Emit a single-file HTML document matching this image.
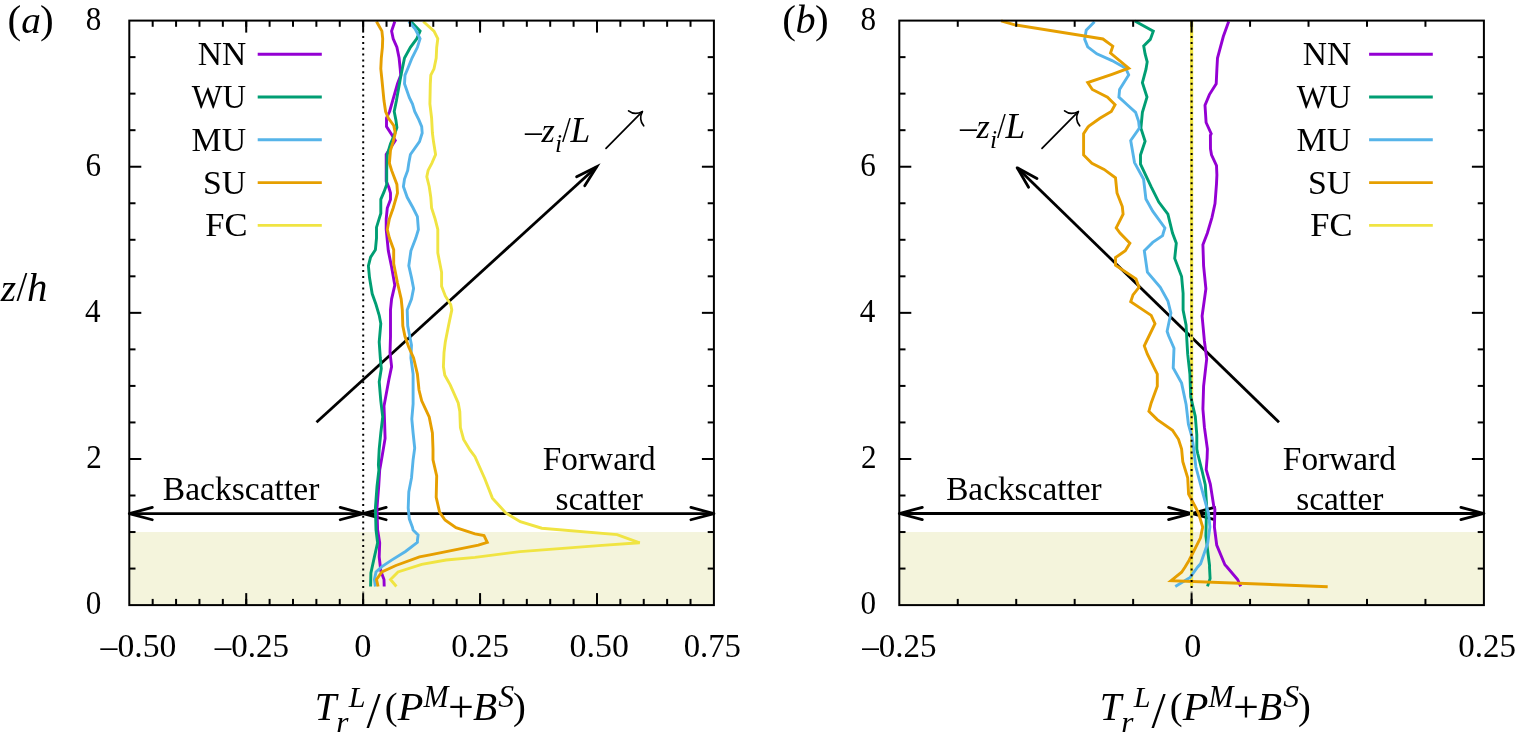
<!DOCTYPE html>
<html><head><meta charset="utf-8"><style>
html,body{margin:0;padding:0;background:#fff;}
svg{display:block;}
text{font-family:"Liberation Serif","Times New Roman",serif;fill:#000;}
</style></head><body>
<svg width="1517" height="744" viewBox="0 0 1517 744">
<rect width="1517" height="744" fill="#fff"/>
<rect x="129.3" y="532.04" width="584.60" height="73.06" fill="#f4f4dc"/>
<rect x="899.3" y="532.04" width="584.60" height="73.06" fill="#f4f4dc"/>
<g stroke="#000" stroke-width="2.8" fill="none" stroke-linejoin="miter" stroke-miterlimit="10">
<line x1="316.50" y1="422.20" x2="596.70" y2="166.70" stroke-linecap="butt"/>
<path d="M576.63,176.87 L596.70,166.70 L584.73,185.75" stroke-linecap="round"/>
</g>
<g stroke="#000" stroke-width="2.8" fill="none" stroke-linejoin="round" stroke-miterlimit="10">
<line x1="129.30" y1="513.60" x2="363.20" y2="513.60" stroke-linecap="butt"/>
<path d="M152.29,519.76 L129.30,513.60 L152.29,507.44" stroke-linecap="round"/>
<path d="M340.21,507.44 L363.20,513.60 L340.21,519.76" stroke-linecap="round"/>
</g>
<g stroke="#000" stroke-width="2.8" fill="none" stroke-linejoin="round" stroke-miterlimit="10">
<line x1="363.20" y1="513.60" x2="713.90" y2="513.60" stroke-linecap="butt"/>
<path d="M386.19,519.76 L363.20,513.60 L386.19,507.44" stroke-linecap="round"/>
<path d="M690.91,507.44 L713.90,513.60 L690.91,519.76" stroke-linecap="round"/>
</g>
<g stroke="#000" stroke-width="1.7" fill="none" stroke-linecap="round" transform="translate(0,0)">
<line x1="606.0" y1="148.3" x2="642.3" y2="111.7"/>
<path d="M642.3,111.7 Q634.4,115.5 628.6,110.9"/>
<path d="M642.3,111.7 Q638.4,119.4 643.7,125.8"/>
</g>
<g stroke="#000" stroke-width="2.8" fill="none" stroke-linejoin="round" stroke-miterlimit="10">
<line x1="1279.00" y1="422.30" x2="1017.20" y2="167.80" stroke-linecap="butt"/>
<path d="M1028.56,187.22 L1017.20,167.80 L1036.94,178.60" stroke-linecap="round"/>
</g>
<g stroke="#000" stroke-width="2.8" fill="none" stroke-linejoin="round" stroke-miterlimit="10">
<line x1="899.30" y1="513.50" x2="1191.60" y2="513.50" stroke-linecap="butt"/>
<path d="M922.29,519.66 L899.30,513.50 L922.29,507.34" stroke-linecap="round"/>
<path d="M1168.61,507.34 L1191.60,513.50 L1168.61,519.66" stroke-linecap="round"/>
</g>
<g stroke="#000" stroke-width="2.8" fill="none" stroke-linejoin="round" stroke-miterlimit="10">
<line x1="1191.60" y1="513.50" x2="1483.90" y2="513.50" stroke-linecap="butt"/>
<path d="M1214.59,519.66 L1191.60,513.50 L1214.59,507.34" stroke-linecap="round"/>
<path d="M1460.91,507.34 L1483.90,513.50 L1460.91,519.66" stroke-linecap="round"/>
</g>
<g stroke="#000" stroke-width="1.7" fill="none" stroke-linecap="round" transform="translate(436,0)">
<line x1="606.0" y1="148.3" x2="642.3" y2="111.7"/>
<path d="M642.3,111.7 Q634.4,115.5 628.6,110.9"/>
<path d="M642.3,111.7 Q638.4,119.4 643.7,125.8"/>
</g>
<polyline points="394.8,21.5 391.6,31.1 393.2,38.7 396.9,47.3 399.1,58.0 400.2,68.8 400.7,75.2 397.5,83.8 392.6,100.8 389.6,111.5 386.5,118.0 386.5,126.6 392.1,135.2 395.3,140.5 386.2,154.5 386.2,181.1 388.9,187.6 390.5,193.0 390.5,199.4 387.3,208.0 386.2,218.8 386.2,229.5 388.3,250.8 391.6,266.9 394.8,285.2 391.6,299.1 390.5,309.9 390.5,320.0 390.5,336.5 390.0,352.6 391.6,366.6 388.9,379.5 384.0,406.1 384.6,422.3 385.1,438.4 382.4,454.5 379.7,470.0 378.7,486.5 377.0,508.0 377.6,529.8 379.7,542.9 379.2,556.9 380.8,570.9 384.0,579.5 384.2,586.5" fill="none" stroke="#9400d3" stroke-width="2.9" stroke-linejoin="miter" stroke-miterlimit="4" stroke-linecap="butt"/>
<polyline points="410.9,21.5 420.1,31.1 416.8,38.7 410.4,47.3 404.5,58.0 402.3,68.8 400.2,79.5 396.4,100.8 394.2,111.5 395.9,120.1 396.9,127.6 394.2,135.2 390.5,143.8 387.3,154.5 386.7,170.0 386.7,184.4 384.0,191.9 380.8,199.4 380.8,213.4 376.5,227.4 376.5,238.1 375.4,249.7 370.6,257.2 368.4,265.8 369.5,277.6 372.2,293.8 376.0,304.5 379.2,315.3 380.8,323.6 379.2,341.9 380.3,358.0 381.3,368.8 379.2,381.7 380.8,400.8 382.7,416.9 380.8,433.0 379.2,449.1 378.4,465.0 378.9,470.0 377.0,486.5 375.4,508.0 376.0,529.8 377.6,542.9 374.4,556.9 370.9,573.0 370.6,586.5" fill="none" stroke="#009e73" stroke-width="2.9" stroke-linejoin="miter" stroke-miterlimit="4" stroke-linecap="butt"/>
<polyline points="408.8,21.5 415.2,29.0 420.1,38.7 417.4,47.3 412.0,58.0 407.7,68.8 405.0,75.2 404.5,83.8 409.3,97.5 412.5,104.0 414.7,111.5 419.0,120.1 421.7,126.6 422.2,133.0 419.5,141.6 410.4,154.5 408.8,163.1 407.7,170.4 404.5,179.0 403.4,186.5 407.2,197.3 413.1,208.0 417.4,216.6 418.4,229.5 415.8,238.1 410.9,250.8 408.8,265.8 411.5,277.6 413.6,288.4 411.5,299.1 407.2,309.9 407.7,325.8 409.8,336.5 411.5,345.1 410.9,358.0 413.1,374.1 413.1,390.0 413.1,404.0 411.8,419.0 413.1,433.0 414.7,448.1 413.1,459.9 411.5,477.9 408.8,491.9 408.2,508.0 409.3,518.8 412.5,527.4 413.1,530.0 418.1,535.1 417.4,540.3 417.4,542.4 405.5,551.5 391.6,560.1 381.9,566.6 376.0,571.9 374.4,579.5 375.4,586.5" fill="none" stroke="#56b4e9" stroke-width="2.9" stroke-linejoin="miter" stroke-miterlimit="4" stroke-linecap="butt"/>
<polyline points="376.5,21.5 381.9,31.1 382.7,38.7 382.4,47.3 381.3,58.0 380.8,68.8 381.9,79.5 384.0,100.8 385.6,111.5 388.3,118.0 393.7,125.5 395.3,133.0 393.2,141.6 390.5,150.2 389.4,163.1 391.6,170.4 396.9,184.4 397.5,193.0 393.2,208.0 389.4,218.8 387.3,229.5 389.4,238.1 393.7,249.7 393.7,263.7 397.5,283.0 401.2,299.1 402.3,309.9 402.8,325.8 405.0,336.5 408.8,347.3 413.6,358.0 417.4,374.1 419.0,390.0 421.7,400.8 429.2,416.9 432.4,433.0 433.0,449.1 433.0,459.9 436.7,475.8 436.2,497.3 439.6,512.2 444.2,518.8 445.3,520.2 456.0,527.6 475.0,533.8 484.0,535.5 487.3,542.3 478.4,545.2 430.0,554.8 419.5,556.9 395.9,565.5 381.9,571.9 376.5,579.5 378.1,586.5" fill="none" stroke="#e69f00" stroke-width="2.9" stroke-linejoin="miter" stroke-miterlimit="4" stroke-linecap="butt"/>
<polyline points="423.3,21.5 434.0,31.1 437.8,38.7 436.7,47.3 436.2,58.0 434.0,68.8 430.8,75.2 430.3,83.8 429.9,104.0 431.6,118.0 432.4,133.0 433.5,141.6 435.6,154.5 431.9,163.1 428.1,170.4 426.8,176.8 429.2,186.5 430.8,197.3 431.6,208.0 435.1,218.8 437.8,229.5 437.8,252.9 441.6,272.3 441.6,286.2 445.3,295.9 450.7,304.5 451.8,309.9 448.5,325.8 445.3,341.9 444.0,352.6 443.4,366.6 444.8,375.2 450.2,384.9 458.2,402.9 459.8,411.5 460.4,427.6 463.6,439.5 470.1,450.2 475.0,456.7 484.8,478.7 492.4,498.1 505.8,512.9 520.3,521.7 541.8,528.2 617.1,534.6 639.7,542.8 602.0,545.4 520.0,551.6 475.0,557.4 446.1,560.0 421.7,564.4 398.0,571.9 390.5,579.5 396.4,586.5" fill="none" stroke="#f0e442" stroke-width="2.9" stroke-linejoin="miter" stroke-miterlimit="4" stroke-linecap="butt"/>
<polyline points="1191.6,20.6 1191.6,586.4" fill="none" stroke="#f0e442" stroke-width="3.2" stroke-linejoin="miter" stroke-miterlimit="4" stroke-linecap="butt"/>
<polyline points="1228.7,21.5 1223.3,36.5 1217.5,58.0 1216.9,68.8 1216.2,83.8 1209.4,94.6 1205.0,105.3 1206.1,122.5 1211.2,133.7 1210.4,135.4 1210.5,148.9 1211.5,154.8 1216.5,165.6 1216.9,175.0 1216.5,183.8 1215.0,203.6 1212.0,217.3 1207.4,233.0 1202.9,244.7 1203.6,266.0 1205.9,288.8 1202.1,316.1 1204.4,341.0 1206.7,358.8 1203.6,386.2 1202.9,409.0 1204.4,427.2 1207.4,449.0 1207.1,458.0 1206.2,469.7 1210.3,484.1 1213.9,507.0 1214.9,509.0 1214.4,527.0 1216.7,545.0 1224.9,564.8 1227.0,567.0 1237.6,579.5 1240.7,586.4" fill="none" stroke="#9400d3" stroke-width="2.9" stroke-linejoin="miter" stroke-miterlimit="4" stroke-linecap="butt"/>
<polyline points="1134.8,21.1 1153.3,31.2 1150.3,39.4 1143.7,45.9 1145.1,53.9 1147.2,61.9 1146.0,69.2 1142.4,82.6 1147.0,97.1 1142.4,112.3 1140.9,128.1 1145.1,141.3 1140.5,155.0 1140.5,164.1 1151.2,186.9 1158.8,202.1 1167.9,214.2 1172.5,233.0 1176.3,243.2 1174.7,258.4 1181.6,276.6 1183.1,293.3 1183.1,310.1 1186.1,325.3 1186.9,341.0 1187.7,354.2 1189.9,374.0 1190.7,396.8 1195.3,416.5 1196.8,434.8 1196.8,449.0 1197.7,453.5 1202.2,471.5 1205.3,485.0 1206.7,507.0 1206.3,518.0 1205.9,536.0 1208.1,554.1 1209.6,565.8 1209.5,567.0 1210.1,578.5 1207.5,586.4" fill="none" stroke="#009e73" stroke-width="2.9" stroke-linejoin="miter" stroke-miterlimit="4" stroke-linecap="butt"/>
<polyline points="1094.5,21.8 1086.2,30.2 1084.7,39.3 1087.7,46.9 1096.8,53.8 1112.0,60.6 1125.7,68.2 1128.7,75.0 1119.6,89.5 1118.9,97.1 1127.2,104.7 1135.6,112.3 1138.6,121.4 1139.4,128.1 1130.7,140.5 1134.5,162.6 1143.6,179.3 1145.9,199.0 1152.7,211.2 1164.9,227.9 1163.3,233.0 1162.6,235.6 1152.7,242.4 1144.3,250.8 1147.4,272.1 1160.3,287.3 1167.9,301.0 1170.9,313.1 1167.1,331.3 1168.7,336.0 1170.9,341.0 1174.0,348.2 1173.2,367.9 1181.6,383.1 1186.1,404.4 1188.4,424.1 1192.2,437.8 1193.7,449.0 1195.9,467.0 1199.5,480.5 1203.1,494.1 1206.7,507.0 1208.6,513.5 1209.9,527.0 1207.7,543.2 1200.6,563.7 1197.7,567.0 1190.1,577.4 1175.3,586.4" fill="none" stroke="#56b4e9" stroke-width="2.9" stroke-linejoin="miter" stroke-miterlimit="4" stroke-linecap="butt"/>
<polyline points="1001.1,20.8 1014.8,24.9 1086.2,36.3 1102.9,39.0 1112.8,46.2 1110.5,53.0 1128.7,68.2 1112.0,74.3 1087.7,82.6 1092.3,89.5 1107.5,97.1 1115.1,104.7 1111.3,111.5 1099.9,118.3 1088.9,126.1 1087.7,127.5 1083.6,133.7 1083.6,155.0 1091.9,163.3 1104.1,169.4 1115.5,177.8 1117.0,192.9 1122.3,206.6 1123.1,214.2 1116.2,227.9 1120.0,233.0 1129.9,243.2 1125.3,250.8 1115.5,257.6 1115.5,265.2 1136.0,278.9 1139.0,287.3 1133.0,294.9 1130.7,301.7 1151.2,315.4 1155.0,323.7 1146.6,341.0 1144.3,345.9 1147.4,354.2 1157.3,374.0 1157.3,386.2 1151.2,402.9 1148.9,411.2 1157.3,419.6 1172.5,430.2 1178.5,439.3 1181.6,449.0 1182.8,461.6 1187.7,477.8 1188.6,494.1 1195.4,507.0 1198.6,513.5 1202.7,527.0 1200.5,537.8 1194.1,550.5 1189.0,560.5 1185.1,567.0 1181.6,572.2 1171.1,580.6 1327.7,586.7" fill="none" stroke="#e69f00" stroke-width="2.9" stroke-linejoin="miter" stroke-miterlimit="4" stroke-linecap="butt"/>
<line x1="363.2" y1="33.20" x2="363.2" y2="592.50" stroke="#000" stroke-width="2" stroke-dasharray="2 3.85" stroke-dashoffset="3.000"/>
<line x1="1191.6" y1="33.20" x2="1191.6" y2="592.50" stroke="#000" stroke-width="2" stroke-dasharray="2 3.85" stroke-dashoffset="3.000"/>
<g stroke="#000" stroke-width="2" fill="none">
<rect x="129.3" y="20.6" width="584.60" height="584.50" fill="none" stroke="#000" stroke-width="2"/>
<line x1="152.68" y1="605.1" x2="152.68" y2="598.9"/>
<line x1="152.68" y1="20.6" x2="152.68" y2="26.8"/>
<line x1="176.07" y1="605.1" x2="176.07" y2="598.9"/>
<line x1="176.07" y1="20.6" x2="176.07" y2="26.8"/>
<line x1="199.45" y1="605.1" x2="199.45" y2="598.9"/>
<line x1="199.45" y1="20.6" x2="199.45" y2="26.8"/>
<line x1="222.84" y1="605.1" x2="222.84" y2="598.9"/>
<line x1="222.84" y1="20.6" x2="222.84" y2="26.8"/>
<line x1="246.22" y1="605.1" x2="246.22" y2="598.9"/>
<line x1="246.22" y1="20.6" x2="246.22" y2="26.8"/>
<line x1="269.60" y1="605.1" x2="269.60" y2="598.9"/>
<line x1="269.60" y1="20.6" x2="269.60" y2="26.8"/>
<line x1="292.99" y1="605.1" x2="292.99" y2="598.9"/>
<line x1="292.99" y1="20.6" x2="292.99" y2="26.8"/>
<line x1="316.37" y1="605.1" x2="316.37" y2="598.9"/>
<line x1="316.37" y1="20.6" x2="316.37" y2="26.8"/>
<line x1="339.76" y1="605.1" x2="339.76" y2="598.9"/>
<line x1="339.76" y1="20.6" x2="339.76" y2="26.8"/>
<line x1="363.14" y1="605.1" x2="363.14" y2="598.9"/>
<line x1="363.14" y1="20.6" x2="363.14" y2="26.8"/>
<line x1="386.52" y1="605.1" x2="386.52" y2="598.9"/>
<line x1="386.52" y1="20.6" x2="386.52" y2="26.8"/>
<line x1="409.91" y1="605.1" x2="409.91" y2="598.9"/>
<line x1="409.91" y1="20.6" x2="409.91" y2="26.8"/>
<line x1="433.29" y1="605.1" x2="433.29" y2="598.9"/>
<line x1="433.29" y1="20.6" x2="433.29" y2="26.8"/>
<line x1="456.68" y1="605.1" x2="456.68" y2="598.9"/>
<line x1="456.68" y1="20.6" x2="456.68" y2="26.8"/>
<line x1="480.06" y1="605.1" x2="480.06" y2="598.9"/>
<line x1="480.06" y1="20.6" x2="480.06" y2="26.8"/>
<line x1="503.44" y1="605.1" x2="503.44" y2="598.9"/>
<line x1="503.44" y1="20.6" x2="503.44" y2="26.8"/>
<line x1="526.83" y1="605.1" x2="526.83" y2="598.9"/>
<line x1="526.83" y1="20.6" x2="526.83" y2="26.8"/>
<line x1="550.21" y1="605.1" x2="550.21" y2="598.9"/>
<line x1="550.21" y1="20.6" x2="550.21" y2="26.8"/>
<line x1="573.60" y1="605.1" x2="573.60" y2="598.9"/>
<line x1="573.60" y1="20.6" x2="573.60" y2="26.8"/>
<line x1="596.98" y1="605.1" x2="596.98" y2="598.9"/>
<line x1="596.98" y1="20.6" x2="596.98" y2="26.8"/>
<line x1="620.36" y1="605.1" x2="620.36" y2="598.9"/>
<line x1="620.36" y1="20.6" x2="620.36" y2="26.8"/>
<line x1="643.75" y1="605.1" x2="643.75" y2="598.9"/>
<line x1="643.75" y1="20.6" x2="643.75" y2="26.8"/>
<line x1="667.13" y1="605.1" x2="667.13" y2="598.9"/>
<line x1="667.13" y1="20.6" x2="667.13" y2="26.8"/>
<line x1="690.52" y1="605.1" x2="690.52" y2="598.9"/>
<line x1="690.52" y1="20.6" x2="690.52" y2="26.8"/>
<line x1="246.22" y1="605.1" x2="246.22" y2="593.1"/>
<line x1="246.22" y1="20.6" x2="246.22" y2="32.6"/>
<line x1="363.14" y1="605.1" x2="363.14" y2="593.1"/>
<line x1="363.14" y1="20.6" x2="363.14" y2="32.6"/>
<line x1="480.06" y1="605.1" x2="480.06" y2="593.1"/>
<line x1="480.06" y1="20.6" x2="480.06" y2="32.6"/>
<line x1="596.98" y1="605.1" x2="596.98" y2="593.1"/>
<line x1="596.98" y1="20.6" x2="596.98" y2="32.6"/>
<line x1="129.3" y1="568.57" x2="135.5" y2="568.57"/>
<line x1="713.9" y1="568.57" x2="707.6999999999999" y2="568.57"/>
<line x1="129.3" y1="532.04" x2="135.5" y2="532.04"/>
<line x1="713.9" y1="532.04" x2="707.6999999999999" y2="532.04"/>
<line x1="129.3" y1="495.51" x2="135.5" y2="495.51"/>
<line x1="713.9" y1="495.51" x2="707.6999999999999" y2="495.51"/>
<line x1="129.3" y1="458.98" x2="141.3" y2="458.98"/>
<line x1="713.9" y1="458.98" x2="701.9" y2="458.98"/>
<line x1="129.3" y1="422.44" x2="135.5" y2="422.44"/>
<line x1="713.9" y1="422.44" x2="707.6999999999999" y2="422.44"/>
<line x1="129.3" y1="385.91" x2="135.5" y2="385.91"/>
<line x1="713.9" y1="385.91" x2="707.6999999999999" y2="385.91"/>
<line x1="129.3" y1="349.38" x2="135.5" y2="349.38"/>
<line x1="713.9" y1="349.38" x2="707.6999999999999" y2="349.38"/>
<line x1="129.3" y1="312.85" x2="141.3" y2="312.85"/>
<line x1="713.9" y1="312.85" x2="701.9" y2="312.85"/>
<line x1="129.3" y1="276.32" x2="135.5" y2="276.32"/>
<line x1="713.9" y1="276.32" x2="707.6999999999999" y2="276.32"/>
<line x1="129.3" y1="239.79" x2="135.5" y2="239.79"/>
<line x1="713.9" y1="239.79" x2="707.6999999999999" y2="239.79"/>
<line x1="129.3" y1="203.26" x2="135.5" y2="203.26"/>
<line x1="713.9" y1="203.26" x2="707.6999999999999" y2="203.26"/>
<line x1="129.3" y1="166.73" x2="141.3" y2="166.73"/>
<line x1="713.9" y1="166.73" x2="701.9" y2="166.73"/>
<line x1="129.3" y1="130.19" x2="135.5" y2="130.19"/>
<line x1="713.9" y1="130.19" x2="707.6999999999999" y2="130.19"/>
<line x1="129.3" y1="93.66" x2="135.5" y2="93.66"/>
<line x1="713.9" y1="93.66" x2="707.6999999999999" y2="93.66"/>
<line x1="129.3" y1="57.13" x2="135.5" y2="57.13"/>
<line x1="713.9" y1="57.13" x2="707.6999999999999" y2="57.13"/>
<rect x="899.3" y="20.6" width="584.60" height="584.50" fill="none" stroke="#000" stroke-width="2"/>
<line x1="957.76" y1="605.1" x2="957.76" y2="598.9"/>
<line x1="957.76" y1="20.6" x2="957.76" y2="26.8"/>
<line x1="1016.22" y1="605.1" x2="1016.22" y2="598.9"/>
<line x1="1016.22" y1="20.6" x2="1016.22" y2="26.8"/>
<line x1="1074.68" y1="605.1" x2="1074.68" y2="598.9"/>
<line x1="1074.68" y1="20.6" x2="1074.68" y2="26.8"/>
<line x1="1133.14" y1="605.1" x2="1133.14" y2="598.9"/>
<line x1="1133.14" y1="20.6" x2="1133.14" y2="26.8"/>
<line x1="1191.60" y1="605.1" x2="1191.60" y2="598.9"/>
<line x1="1191.60" y1="20.6" x2="1191.60" y2="26.8"/>
<line x1="1250.06" y1="605.1" x2="1250.06" y2="598.9"/>
<line x1="1250.06" y1="20.6" x2="1250.06" y2="26.8"/>
<line x1="1308.52" y1="605.1" x2="1308.52" y2="598.9"/>
<line x1="1308.52" y1="20.6" x2="1308.52" y2="26.8"/>
<line x1="1366.98" y1="605.1" x2="1366.98" y2="598.9"/>
<line x1="1366.98" y1="20.6" x2="1366.98" y2="26.8"/>
<line x1="1425.44" y1="605.1" x2="1425.44" y2="598.9"/>
<line x1="1425.44" y1="20.6" x2="1425.44" y2="26.8"/>
<line x1="1191.60" y1="605.1" x2="1191.60" y2="593.1"/>
<line x1="1191.60" y1="20.6" x2="1191.60" y2="32.6"/>
<line x1="899.3" y1="568.57" x2="905.5" y2="568.57"/>
<line x1="1483.9" y1="568.57" x2="1477.7" y2="568.57"/>
<line x1="899.3" y1="532.04" x2="905.5" y2="532.04"/>
<line x1="1483.9" y1="532.04" x2="1477.7" y2="532.04"/>
<line x1="899.3" y1="495.51" x2="905.5" y2="495.51"/>
<line x1="1483.9" y1="495.51" x2="1477.7" y2="495.51"/>
<line x1="899.3" y1="458.98" x2="911.3" y2="458.98"/>
<line x1="1483.9" y1="458.98" x2="1471.9" y2="458.98"/>
<line x1="899.3" y1="422.44" x2="905.5" y2="422.44"/>
<line x1="1483.9" y1="422.44" x2="1477.7" y2="422.44"/>
<line x1="899.3" y1="385.91" x2="905.5" y2="385.91"/>
<line x1="1483.9" y1="385.91" x2="1477.7" y2="385.91"/>
<line x1="899.3" y1="349.38" x2="905.5" y2="349.38"/>
<line x1="1483.9" y1="349.38" x2="1477.7" y2="349.38"/>
<line x1="899.3" y1="312.85" x2="911.3" y2="312.85"/>
<line x1="1483.9" y1="312.85" x2="1471.9" y2="312.85"/>
<line x1="899.3" y1="276.32" x2="905.5" y2="276.32"/>
<line x1="1483.9" y1="276.32" x2="1477.7" y2="276.32"/>
<line x1="899.3" y1="239.79" x2="905.5" y2="239.79"/>
<line x1="1483.9" y1="239.79" x2="1477.7" y2="239.79"/>
<line x1="899.3" y1="203.26" x2="905.5" y2="203.26"/>
<line x1="1483.9" y1="203.26" x2="1477.7" y2="203.26"/>
<line x1="899.3" y1="166.73" x2="911.3" y2="166.73"/>
<line x1="1483.9" y1="166.73" x2="1471.9" y2="166.73"/>
<line x1="899.3" y1="130.19" x2="905.5" y2="130.19"/>
<line x1="1483.9" y1="130.19" x2="1477.7" y2="130.19"/>
<line x1="899.3" y1="93.66" x2="905.5" y2="93.66"/>
<line x1="1483.9" y1="93.66" x2="1477.7" y2="93.66"/>
<line x1="899.3" y1="57.13" x2="905.5" y2="57.13"/>
<line x1="1483.9" y1="57.13" x2="1477.7" y2="57.13"/>
</g>
<line x1="257.7" y1="54.2" x2="321.8" y2="54.2" stroke="#9400d3" stroke-width="2.9"/>
<line x1="1369.1" y1="54.2" x2="1432.8" y2="54.2" stroke="#9400d3" stroke-width="2.9"/>
<line x1="257.7" y1="97.0" x2="321.8" y2="97.0" stroke="#009e73" stroke-width="2.9"/>
<line x1="1369.1" y1="97.0" x2="1432.8" y2="97.0" stroke="#009e73" stroke-width="2.9"/>
<line x1="257.7" y1="139.8" x2="321.8" y2="139.8" stroke="#56b4e9" stroke-width="2.9"/>
<line x1="1369.1" y1="139.8" x2="1432.8" y2="139.8" stroke="#56b4e9" stroke-width="2.9"/>
<line x1="257.7" y1="182.6" x2="321.8" y2="182.6" stroke="#e69f00" stroke-width="2.9"/>
<line x1="1369.1" y1="182.6" x2="1432.8" y2="182.6" stroke="#e69f00" stroke-width="2.9"/>
<line x1="257.7" y1="225.4" x2="321.8" y2="225.4" stroke="#f0e442" stroke-width="2.9"/>
<line x1="1369.1" y1="225.4" x2="1432.8" y2="225.4" stroke="#f0e442" stroke-width="2.9"/>
<text transform="translate(197.83,65.10) scale(0.9749,1)" font-size="34.40">NN</text>
<text transform="translate(1302.83,65.10) scale(0.9749,1)" font-size="34.40">NN</text>
<text transform="translate(191.77,107.90) scale(0.9495,1)" font-size="34.40">WU</text>
<text transform="translate(1296.77,107.90) scale(0.9495,1)" font-size="34.40">WU</text>
<text transform="translate(191.62,150.70) scale(0.9848,1)" font-size="34.40">MU</text>
<text transform="translate(1296.62,150.70) scale(0.9848,1)" font-size="34.40">MU</text>
<text transform="translate(203.04,193.50) scale(0.9817,1)" font-size="34.40">SU</text>
<text transform="translate(1308.04,193.50) scale(0.9817,1)" font-size="34.40">SU</text>
<text transform="translate(205.21,236.30) scale(1.0029,1)" font-size="34.40">FC</text>
<text transform="translate(1310.21,236.30) scale(1.0029,1)" font-size="34.40">FC</text>
<text transform="translate(85.82,614.00) scale(0.9,1)" font-size="34.6">0</text>
<text transform="translate(860.52,614.00) scale(0.9,1)" font-size="34.6">0</text>
<text transform="translate(86.35,467.88) scale(0.9,1)" font-size="34.6">2</text>
<text transform="translate(861.05,467.88) scale(0.9,1)" font-size="34.6">2</text>
<text transform="translate(85.12,321.75) scale(0.9,1)" font-size="34.6">4</text>
<text transform="translate(859.82,321.75) scale(0.9,1)" font-size="34.6">4</text>
<text transform="translate(85.56,175.63) scale(0.9,1)" font-size="34.6">6</text>
<text transform="translate(860.26,175.63) scale(0.9,1)" font-size="34.6">6</text>
<text transform="translate(85.82,29.50) scale(0.9,1)" font-size="34.6">8</text>
<text transform="translate(860.52,29.50) scale(0.9,1)" font-size="34.6">8</text>
<text transform="translate(100.53,657.10) scale(0.9800,1)" font-size="34.40">–0.50</text>
<text transform="translate(214.83,657.10) scale(0.9595,1)" font-size="34.40">–0.25</text>
<text transform="translate(354.19,657.10) scale(1.0014,1)" font-size="34.40">0</text>
<text transform="translate(451.35,657.10) scale(0.9575,1)" font-size="34.40">0.25</text>
<text transform="translate(569.61,657.10) scale(0.9847,1)" font-size="34.40">0.50</text>
<text transform="translate(683.65,657.10) scale(0.9523,1)" font-size="34.40">0.75</text>
<text transform="translate(862.13,657.10) scale(0.9595,1)" font-size="34.40">–0.25</text>
<text transform="translate(1184.30,657.10) scale(0.9945,1)" font-size="34.40">0</text>
<text transform="translate(1458.35,657.10) scale(0.9575,1)" font-size="34.40">0.25</text>
<text transform="translate(162.83,499.70) scale(0.9758,1)" font-size="34.40">Backscatter</text>
<text transform="translate(542.84,470.20) scale(0.9684,1)" font-size="34.40">Forward</text>
<text transform="translate(555.53,510.10) scale(0.9745,1)" font-size="34.40">scatter</text>
<text transform="translate(946.14,499.80) scale(0.9695,1)" font-size="34.40">Backscatter</text>
<text transform="translate(1282.84,470.30) scale(0.9701,1)" font-size="34.40">Forward</text>
<text transform="translate(1296.23,510.20) scale(0.9710,1)" font-size="34.40">scatter</text>
<g>
<text transform="translate(7.45,32.67) scale(1.0400,1)" font-size="39.59">(</text>
<text transform="translate(21.17,32.71) scale(1.0400,1)" font-size="37.84" font-style="italic">a</text>
<text transform="translate(39.94,32.67) scale(1.0400,1)" font-size="39.59">)</text>
</g><g>
<text transform="translate(782.25,32.67) scale(1.0400,1)" font-size="39.59">(</text>
<text transform="translate(795.51,32.71) scale(1.0143,1)" font-size="39.65" font-style="italic">b</text>
<text transform="translate(815.09,32.67) scale(1.0400,1)" font-size="39.59">)</text>
</g>
<g>
<text transform="translate(0.81,300.90) scale(1.0400,1)" font-size="37.91" font-style="italic">z</text>
<text transform="translate(16.50,300.99) scale(0.9221,1)" font-size="42.16">/</text>
<text transform="translate(27.03,300.90) scale(1.0400,1)" font-size="39.35" font-style="italic">h</text>
</g>
<g>
<text transform="translate(525.03,141.87) scale(1.0053,1)" font-size="33.50">–</text>
<text transform="translate(541.61,141.90) scale(1.0400,1)" font-size="32.90" font-style="italic">z</text>
<text transform="translate(554.97,151.90) scale(1.0400,1)" font-size="24.62" font-style="italic">i</text>
<text transform="translate(562.00,141.55) scale(0.8865,1)" font-size="35.73">/</text>
<text transform="translate(570.62,141.90) scale(1.0163,1)" font-size="34.97" font-style="italic">L</text>
</g>
<g>
<text transform="translate(960.03,137.87) scale(1.0053,1)" font-size="33.50">–</text>
<text transform="translate(976.61,137.90) scale(1.0400,1)" font-size="32.90" font-style="italic">z</text>
<text transform="translate(989.97,147.90) scale(1.0400,1)" font-size="24.62" font-style="italic">i</text>
<text transform="translate(997.00,137.55) scale(0.8865,1)" font-size="35.73">/</text>
<text transform="translate(1005.62,137.90) scale(1.0163,1)" font-size="34.97" font-style="italic">L</text>
</g>
<g>
<text transform="translate(314.85,719.80) scale(0.9765,1)" font-size="39.86" font-style="italic">T</text>
<text transform="translate(336.32,731.70) scale(1.0400,1)" font-size="30.14" font-style="italic">r</text>
<text transform="translate(348.65,706.70) scale(1.0233,1)" font-size="29.48" font-style="italic">L</text>
<text transform="translate(366.50,727.30) scale(1.0026,1)" font-size="50.98">/</text>
<text transform="translate(384.71,719.11) scale(1.0400,1)" font-size="37.06">(</text>
<text transform="translate(397.74,720.00) scale(1.0400,1)" font-size="40.47" font-style="italic">P</text>
<text transform="translate(423.55,707.00) scale(0.9852,1)" font-size="30.54" font-style="italic">M</text>
<text transform="translate(448.01,721.69) scale(1.0153,1)" font-size="45.30">+</text>
<text transform="translate(472.93,719.68) scale(0.9957,1)" font-size="39.68" font-style="italic">B</text>
<text transform="translate(498.23,707.39) scale(1.0116,1)" font-size="31.40" font-style="italic">S</text>
<text transform="translate(512.96,719.11) scale(1.0400,1)" font-size="37.06">)</text>
</g>
<g>
<text transform="translate(1099.85,719.80) scale(0.9765,1)" font-size="39.86" font-style="italic">T</text>
<text transform="translate(1121.32,731.70) scale(1.0400,1)" font-size="30.14" font-style="italic">r</text>
<text transform="translate(1133.65,706.70) scale(1.0233,1)" font-size="29.48" font-style="italic">L</text>
<text transform="translate(1151.50,727.30) scale(1.0026,1)" font-size="50.98">/</text>
<text transform="translate(1169.71,719.11) scale(1.0400,1)" font-size="37.06">(</text>
<text transform="translate(1182.74,720.00) scale(1.0400,1)" font-size="40.47" font-style="italic">P</text>
<text transform="translate(1208.55,707.00) scale(0.9852,1)" font-size="30.54" font-style="italic">M</text>
<text transform="translate(1233.01,721.69) scale(1.0153,1)" font-size="45.30">+</text>
<text transform="translate(1257.93,719.68) scale(0.9957,1)" font-size="39.68" font-style="italic">B</text>
<text transform="translate(1283.23,707.39) scale(1.0116,1)" font-size="31.40" font-style="italic">S</text>
<text transform="translate(1297.96,719.11) scale(1.0400,1)" font-size="37.06">)</text>
</g>
</svg>
</body></html>
